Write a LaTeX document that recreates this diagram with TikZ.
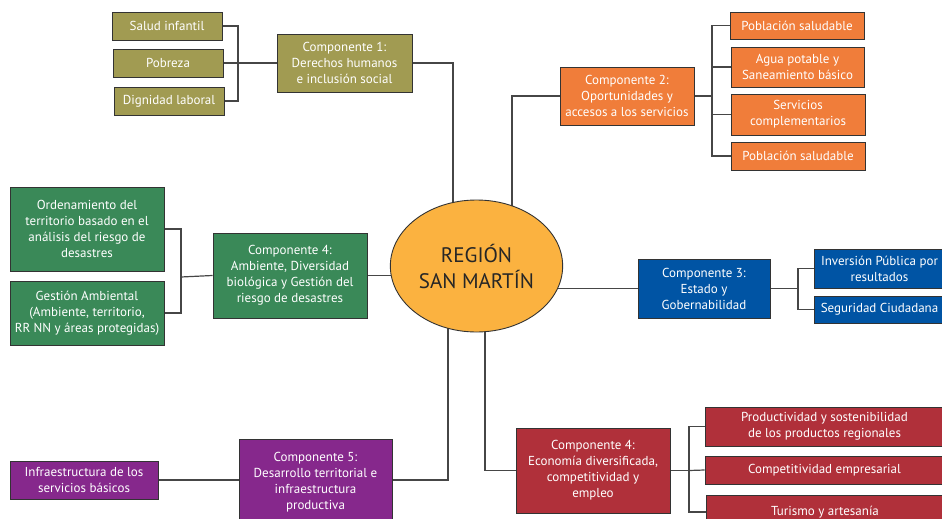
\documentclass[tikz,border=0pt]{standalone}
\usepackage{fontspec}
\setmainfont{PT Sans}
\usetikzlibrary{backgrounds,shapes.geometric}
\definecolor{olivo}{RGB}{161,155,82}
\definecolor{naranja}{RGB}{240,125,58}
\definecolor{verde}{RGB}{58,137,88}
\definecolor{azul}{RGB}{0,84,164}
\definecolor{morado}{RGB}{134,40,140}
\definecolor{rojo}{RGB}{176,48,58}
\definecolor{amarillo}{RGB}{251,178,64}
\definecolor{linea}{RGB}{70,70,70}
\tikzset{
  caja/.style={draw=black!80,line width=0.9pt,text=white,align=center,inner sep=1pt,
    font=\fontsize{13}{16}\selectfont},
  conector/.style={draw=linea,line width=1.2pt}
}
\begin{document}
\begin{tikzpicture}[x=1pt,y=-1pt]
      \useasboundingbox (0,0) rectangle (942,519);
      \node[ellipse,draw=black!80,line width=0.9pt,fill=amarillo,minimum width=167,minimum height=132,
        align=center,text=black!85,font=\fontsize{21}{26}\selectfont] (region) at (476.5,266) {REGIÓN\\SAN MARTÍN};
      \node[caja,fill=olivo,minimum width=110,minimum height=28] (salud) at (167,26) {Salud infantil};
      \node[caja,fill=olivo,minimum width=110,minimum height=28] (pobreza) at (168,63) {Pobreza};
      \node[caja,fill=olivo,minimum width=110,minimum height=28] (dignidad) at (169,101) {Dignidad laboral};
      \node[caja,fill=olivo,minimum width=135,minimum height=58] (comp1) at (344.5,63) {Componente 1:\\Derechos humanos\\e inclusión social};
      \node[caja,fill=naranja,minimum width=134,minimum height=58] (comp2) at (627,96) {Componente 2:\\Oportunidades y\\accesos a los servicios};
      \node[caja,fill=naranja,minimum width=134,minimum height=27] (poblacion1) at (797,25.5) {Población saludable};
      \node[caja,fill=naranja,minimum width=133,minimum height=40] (agua) at (797.5,67) {Agua potable y\\Saneamiento básico};
      \node[caja,fill=naranja,minimum width=134,minimum height=41] (servicios) at (798,114.5) {Servicios\\complementarios};
      \node[caja,fill=naranja,minimum width=134,minimum height=28] (poblacion2) at (798,156) {Población saludable};
      \node[caja,fill=verde,minimum width=154,minimum height=84] (ordenamiento) at (87,229) {Ordenamiento del\\territorio basado en el\\análisis del riesgo de\\desastres};
      \node[caja,fill=verde,minimum width=154,minimum height=64] (gestion) at (87,313) {Gestión Ambiental\\(Ambiente, territorio,\\RR NN y áreas protegidas)};
      \node[caja,fill=verde,minimum width=154,minimum height=85] (comp4a) at (290,275.5) {Componente 4:\\Ambiente, Diversidad\\biológica y Gestión del\\riesgo de desastres};
      \node[caja,fill=azul,minimum width=132,minimum height=59] (comp3) at (704,288.5) {Componente 3:\\Estado y\\Gobernabilidad};
      \node[caja,fill=azul,minimum width=131,minimum height=39] (inversion) at (879.5,268.5) {Inversión Pública por\\resultados};
      \node[caja,fill=azul,minimum width=131,minimum height=27] (seguridad) at (879.5,309.5) {Seguridad Ciudadana};
      \node[caja,fill=morado,minimum width=148,minimum height=38] (infra) at (84,480) {Infraestructura de los\\servicios básicos};
      \node[caja,fill=morado,minimum width=153,minimum height=86] (comp5) at (315.5,482) {Componente 5:\\Desarrollo territorial e\\infraestructura\\productiva};
      \node[caja,fill=rojo,minimum width=154,minimum height=85] (comp4b) at (593,470.5) {Componente 4:\\Economía diversificada,\\competitividad y\\empleo};
      \node[caja,fill=rojo,minimum width=239,minimum height=39] (productividad) at (824.5,426.5) {Productividad y sostenibilidad\\de los productos regionales};
      \node[caja,fill=rojo,minimum width=239,minimum height=28] (competitividad) at (824.5,470) {Competitividad empresarial};
      \node[caja,fill=rojo,minimum width=238,minimum height=34] (turismo) at (825,512) {Turismo y artesanía};
      \coordinate (j1) at (238,63);
      \coordinate (j2) at (712,96);
      \coordinate (j3) at (181,277);
      \coordinate (j4) at (798,288.5);
      \coordinate (j5) at (689,470.5);
      \begin{scope}[on background layer]
        \draw[conector] (salud.east) -| (j1);
        \draw[conector] (dignidad.east) -| (j1);
        \draw[conector] (pobreza.east) -- (comp1.west);
        \draw[conector] (comp1.east) -| ([xshift=-23.5pt]region.center);
        \draw[conector] (comp2.west) -| ([xshift=35.5pt]region.center);
        \draw[conector] (comp2.east) -- (j2);
        \draw[conector] (poblacion1.west) -| (j2);
        \draw[conector] (agua.west) -| (j2);
        \draw[conector] (servicios.west) -| (j2);
        \draw[conector] (poblacion2.west) -| (j2);
        \draw[conector] (ordenamiento.east) -| (j3);
        \draw[conector] (gestion.east) -| (j3);
        \draw[conector] (j3) -- (comp4a.west);
        \draw[conector] (comp4a.east) -- (region.center |- comp4a.east);
        \draw[conector] (region.center |- comp3.west) -- (comp3.west);
        \draw[conector] (comp3.east) -- (j4);
        \draw[conector] (inversion.west) -| (j4);
        \draw[conector] (seguridad.west) -| (j4);
        \draw[conector] (infra.east) -- (infra.east -| comp5.west);
        \draw[conector] (comp5.west |- infra.east) -- (comp5.east |- infra.east) -| ([xshift=-28.5pt]region.center);
        \draw[conector] (comp4b.west) -| ([xshift=8.5pt]region.center);
        \draw[conector] (comp4b.east) -- (j5);
        \draw[conector] (productividad.west) -| (j5);
        \draw[conector] (competitividad.west) -- (j5);
        \draw[conector] (turismo.west) -| (j5);
      \end{scope}
    \end{tikzpicture}
\end{document}
